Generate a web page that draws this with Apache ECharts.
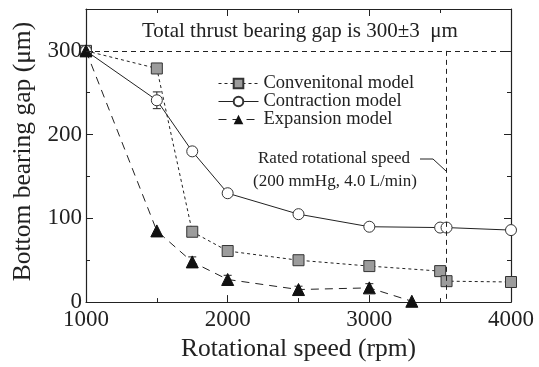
<!DOCTYPE html>
<html>
<head>
<meta charset="utf-8">
<script src="https://cdn.jsdelivr.net/npm/echarts@6/dist/echarts.min.js"></script>
<style>
  html, body { margin: 0; padding: 0; background: #fff; }
  #chart { width: 539px; height: 367px; }
</style>
</head>
<body>
<div id="chart"></div>
<script>
// data
const convSpeed = [1000, 1500, 1750, 2000, 2500, 3000, 3500, 3545, 4000];
const convGap = [300, 279, 84, 61, 50, 43, 37, 25, 24];
const contSpeed = [1000, 1500, 1750, 2000, 2500, 3000, 3500, 3545, 4000];
const contGap = [300, 241, 180, 130, 105, 90, 89, 89, 86];
const expSpeed = [1000, 1500, 1750, 2000, 2500, 3000, 3300];
const expGap = [300, 85, 48, 27, 15, 17, 1];
// error bars: [speed, low, high]
const contErr = [[1500, 231, 251], [1750, 176, 184]];
const expErr = [[1750, 42, 54], [2000, 22, 32], [2500, 11, 19], [3000, 12, 22]];
const convErr = [[3545, 22, 28], [4000, 21, 27]];
const xTicks = [1000, 2000, 3000, 4000];
const yTicks = [0, 100, 200, 300];
const totalGap = 300;
const ratedSpeed = 3545;

const font = "Liberation Serif";
const ink = "#222";
const zip = (xs, ys) => xs.map((x, i) => [x, ys[i]]);

function errSeries(data) {
  return {
    type: "custom",
    data: data,
    silent: true,
    z: 1,
    renderItem(params, api) {
      const x = api.value(0);
      const lo = api.coord([x, api.value(1)]);
      const hi = api.coord([x, api.value(2)]);
      const w = 4;
      const s = { stroke: ink, lineWidth: 1 };
      return {
        type: "group",
        children: [
          { type: "line", shape: { x1: lo[0], y1: lo[1], x2: hi[0], y2: hi[1] }, style: s },
          { type: "line", shape: { x1: lo[0] - w, y1: lo[1], x2: lo[0] + w, y2: lo[1] }, style: s },
          { type: "line", shape: { x1: hi[0] - w, y1: hi[1], x2: hi[0] + w, y2: hi[1] }, style: s }
        ]
      };
    }
  };
}

const chart = echarts.init(document.getElementById("chart"));
const axisCommon = {
  axisLine: { show: true, onZero: false, lineStyle: { color: ink, width: 1.2 } },
  axisTick: { show: true, inside: true, length: 7, lineStyle: { color: ink } },
  minorTick: { show: true, splitNumber: 2, length: 4, lineStyle: { color: ink } },
  splitLine: { show: false }
};
chart.setOption({
  animation: false,
  backgroundColor: "#fff",
  textStyle: { fontFamily: font, color: ink },
  grid: { left: 86, right: 28, top: 9, bottom: 60 },
  xAxis: [
    Object.assign({
      type: "value", min: xTicks[0], max: xTicks[xTicks.length - 1], interval: 1000,
      name: "Rotational speed (rpm)", nameLocation: "middle", nameGap: 32,
      nameTextStyle: { fontFamily: font, fontSize: 25.5, color: ink },
      axisLabel: { fontFamily: font, fontSize: 23, color: ink, margin: 6,
        formatter: v => (xTicks.includes(v) ? String(v) : "") }
    }, axisCommon),
    Object.assign({
      type: "value", position: "top", min: 1000, max: 4000, interval: 1000,
      axisLabel: { show: false }
    }, axisCommon)
  ],
  yAxis: [
    Object.assign({
      type: "value", min: 0, max: 350, interval: 100,
      name: "Bottom bearing gap (μm)", nameLocation: "middle", nameGap: 50,
      nameTextStyle: { fontFamily: font, fontSize: 25.5, color: ink, padding: [0, 0, 0, 8] },
      axisLabel: { fontFamily: font, fontSize: 23, color: ink, margin: 4,
        formatter: v => (yTicks.includes(v) ? String(v) : "") }
    }, axisCommon),
    Object.assign({
      type: "value", position: "right", min: 0, max: 350, interval: 100,
      axisLabel: { show: false }
    }, axisCommon)
  ],
  legend: {
    orient: "vertical", left: 213, top: 69, itemGap: -1,
    itemWidth: 40, itemHeight: 12,
    lineStyle: { width: 1 },
    textStyle: { fontFamily: font, fontSize: 18.5, color: ink },
    data: ["Convenitonal model", "Contraction model", "Expansion model"]
  },
  series: [
    {
      name: "Convenitonal model", type: "line", data: zip(convSpeed, convGap),
      symbol: "rect", symbolSize: 11, z: 3,
      lineStyle: { color: ink, width: 1, type: [3, 3] },
      itemStyle: { color: "#9c9c9c", borderColor: "#333", borderWidth: 1 },
      markLine: {
        silent: true, symbol: "none", label: { show: false },
        lineStyle: { color: ink, width: 1, type: [5, 4] },
        data: [
          [{ coord: [1000, totalGap] }, { coord: [4000, totalGap] }],
          [{ coord: [ratedSpeed, totalGap] }, { coord: [ratedSpeed, 0] }]
        ]
      }
    },
    {
      name: "Contraction model", type: "line", data: zip(contSpeed, contGap),
      symbol: "circle", symbolSize: 11, z: 3,
      lineStyle: { color: ink, width: 1, type: "solid" },
      itemStyle: { color: "#fff", borderColor: "#333", borderWidth: 1 }
    },
    {
      name: "Expansion model", type: "line", data: zip(expSpeed, expGap),
      symbol: "triangle", symbolSize: 12, z: 4,
      lineStyle: { color: ink, width: 1, type: [8, 6] },
      itemStyle: { color: "#111", borderColor: "#111" }
    },
    errSeries(contErr),
    errSeries(expErr),
    errSeries(convErr)
  ],
  graphic: [
    {
      type: "text", left: 142, top: 21,
      style: { text: "Total thrust bearing gap is 300±3  μm", font: "21px " + font, fill: ink }
    },
    {
      type: "text", left: 258, top: 150,
      style: { text: "Rated rotational speed", font: "17px " + font, fill: ink }
    },
    {
      type: "text", left: 253, top: 173,
      style: { text: "(200 mmHg, 4.0 L/min)", font: "17px " + font, fill: ink }
    },
    {
      type: "polyline",
      shape: { points: [[420, 159], [433, 159], [446, 171]] },
      style: { stroke: ink, lineWidth: 1, fill: null }
    }
  ]
});
</script>
</body>
</html>
